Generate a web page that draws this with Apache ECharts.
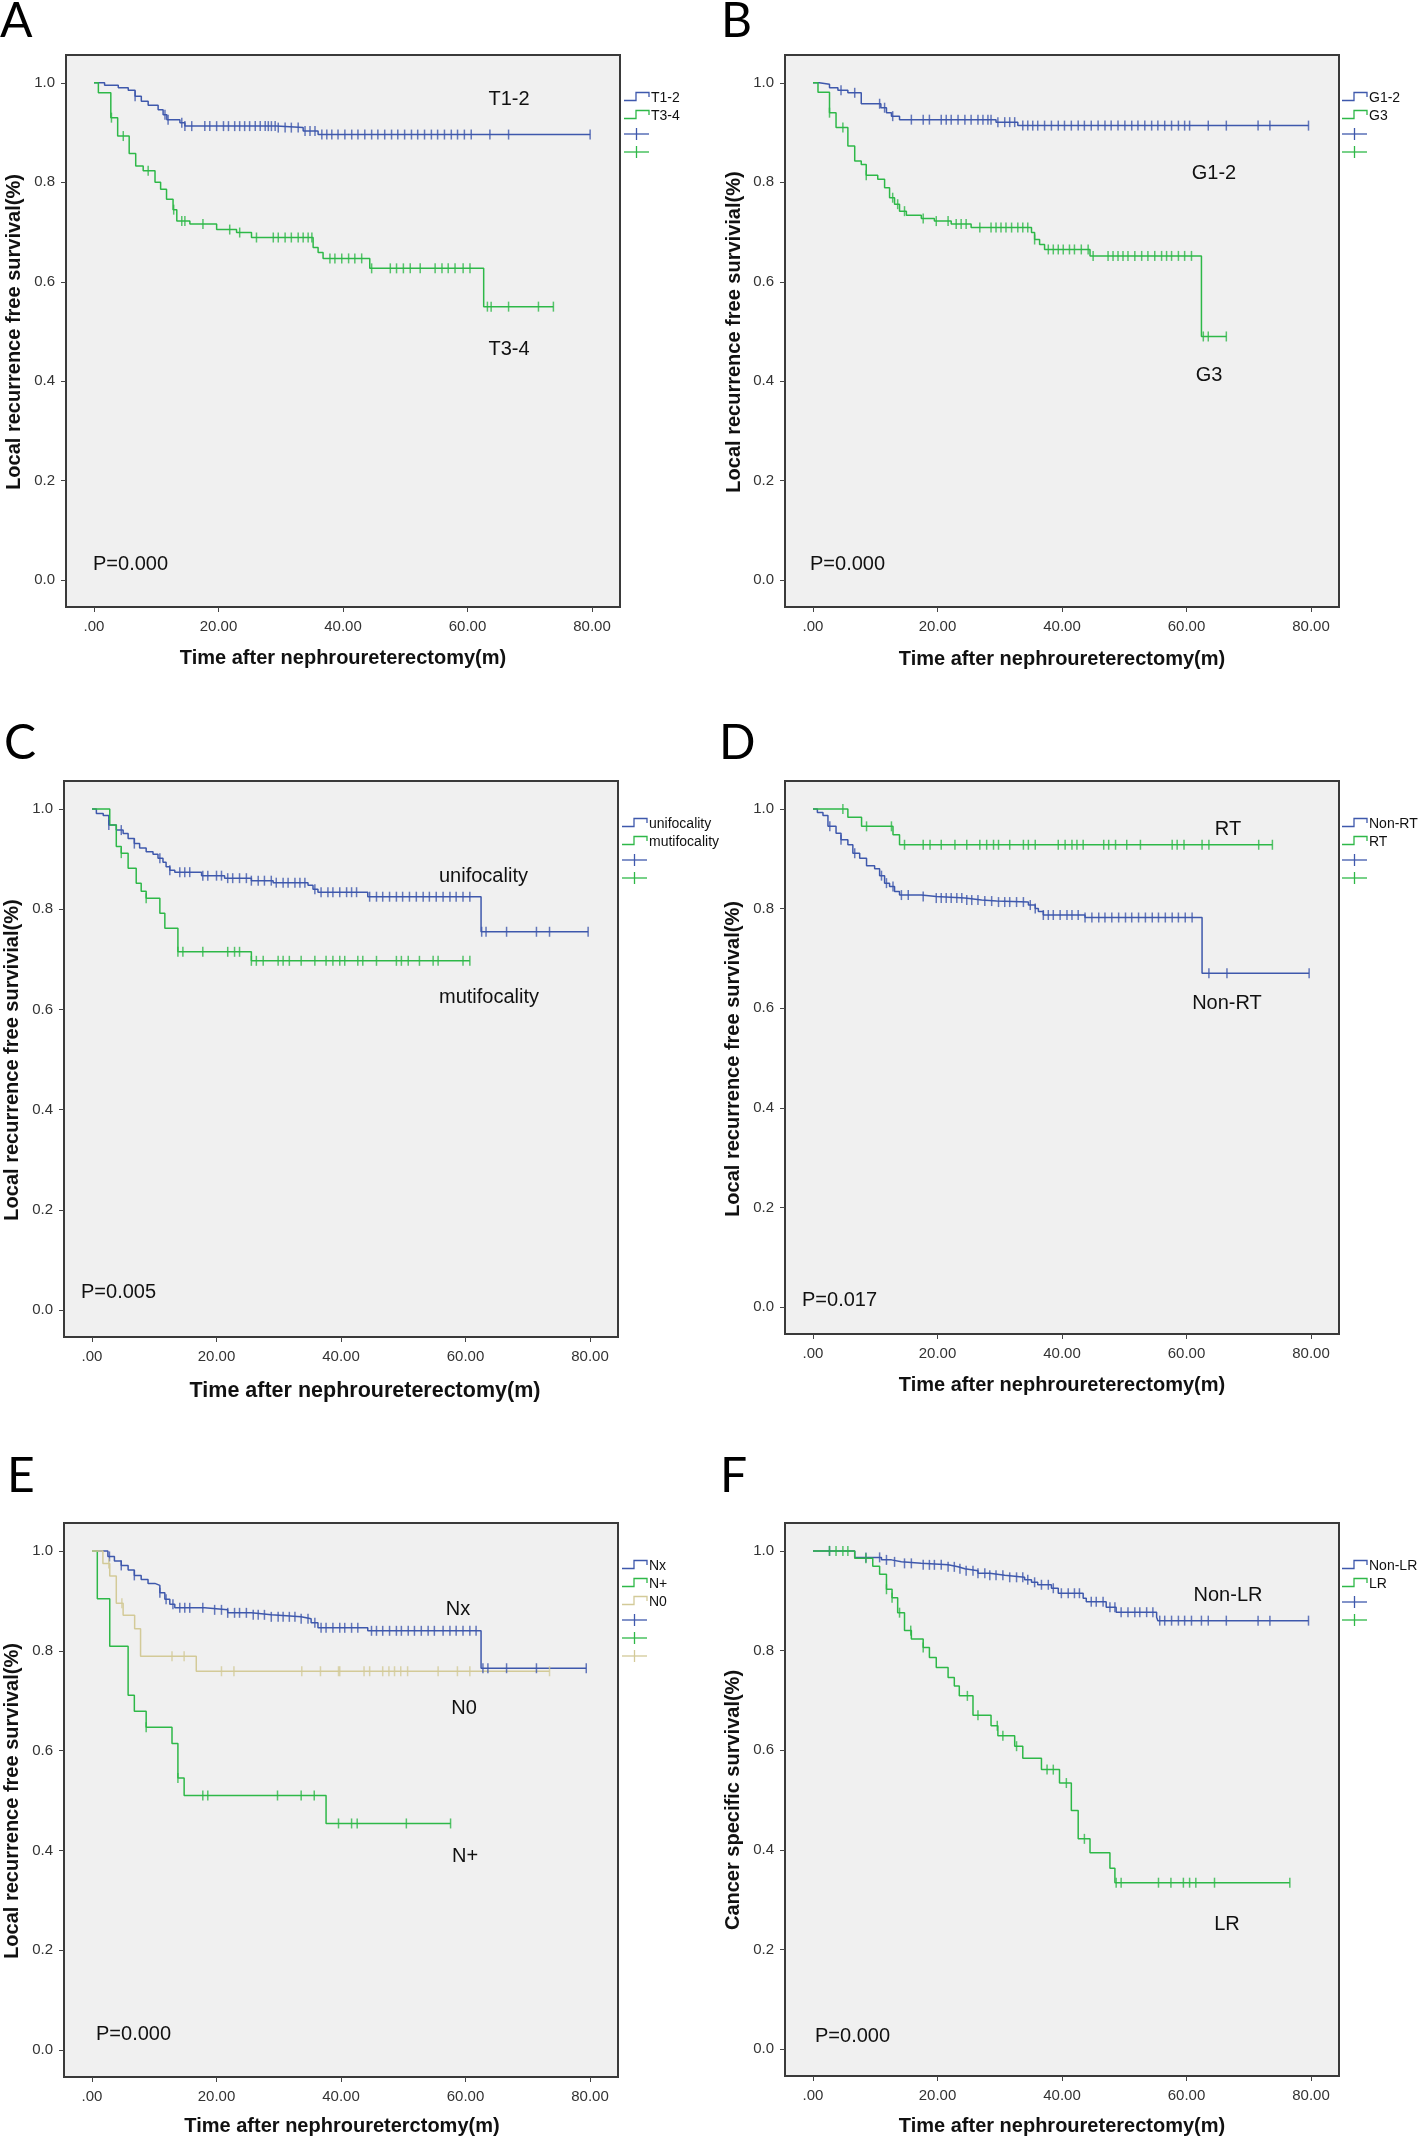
<!DOCTYPE html>
<html>
<head>
<meta charset="utf-8">
<script src="https://cdn.jsdelivr.net/npm/echarts@6/dist/echarts.min.js"></script>
<style>
  html, body { margin: 0; padding: 0; background: #fff; }
  #chart { width: 1418px; height: 2137px; }
</style>
</head>
<body>
<div id="chart"></div>
<script>
// tick values shared by all six panels
const xTicks = [0, 20, 40, 60, 80];
const yTicks = [0, 0.2, 0.4, 0.6, 0.8, 1.0];

// A - T stage
const timeT12 = [0, 1.7, 3.9, 5.5, 6.6, 7.6, 8.7, 10.3, 11.1, 11.7, 13.8, 14.6, 29.3, 33.6, 36.0];
const survT12 = [1, 0.995, 0.99, 0.985, 0.973, 0.963, 0.955, 0.946, 0.936, 0.926, 0.92, 0.913, 0.91, 0.903, 0.896];
const censT12 = [6.6, 11.4, 11.9, 14.1, 14.6, 15.7, 17.8, 18.6, 19.7, 20.8, 21.6, 22.6, 23.4, 24.2, 25.0, 25.9, 26.7, 27.5, 28.0, 28.5, 29.1, 29.6, 30.7, 31.7, 32.8, 33.9, 34.7, 35.5, 36.6, 37.4, 38.2, 39.2, 40.3, 41.4, 42.4, 43.5, 44.6, 45.6, 46.7, 47.8, 48.8, 49.9, 51.0, 52.0, 53.1, 54.2, 55.2, 56.3, 57.4, 58.4, 59.5, 60.6, 63.6, 66.6, 79.7];
const timeT34 = [0, 0.7, 2.7, 3.8, 5.65, 6.7, 7.9, 9.8, 10.7, 11.65, 12.7, 13.3, 15.4, 19.7, 22.9, 25.3, 35.2, 36.0, 36.8, 44.3, 62.6];
const survT34 = [1, 0.98, 0.93, 0.893, 0.858, 0.833, 0.823, 0.80, 0.786, 0.766, 0.745, 0.722, 0.716, 0.705, 0.699, 0.689, 0.669, 0.659, 0.647, 0.627, 0.55];
const censT34 = [2.8, 4.7, 8.7, 12.8, 14.1, 14.6, 17.5, 21.8, 23.4, 26.1, 28.8, 29.6, 30.7, 31.7, 32.8, 33.6, 34.4, 35.0, 37.9, 38.7, 39.8, 40.9, 41.9, 43.0, 44.6, 47.6, 48.6, 49.7, 50.8, 52.4, 54.8, 55.9, 56.9, 58.0, 59.3, 60.4, 63.2, 63.8, 66.6, 71.4, 73.8];

// B - grade
const timeG12 = [0, 1.0, 2.65, 4.0, 5.6, 7.75, 10.9, 11.8, 12.6, 13.9, 29.4, 32.9];
const survG12 = [1, 0.997, 0.99, 0.985, 0.98, 0.958, 0.95, 0.94, 0.933, 0.926, 0.921, 0.914];
const censG12 = [4.5, 6.7, 10.7, 11.5, 12.8, 15.8, 17.7, 18.7, 20.6, 21.4, 22.2, 23.3, 24.4, 25.4, 26.5, 27.3, 28.1, 28.6, 29.7, 30.8, 31.6, 32.4, 33.7, 34.5, 35.3, 36.1, 37.2, 38.3, 39.4, 40.4, 41.5, 42.6, 43.6, 44.7, 45.8, 46.9, 47.9, 49.0, 50.1, 51.2, 52.2, 53.3, 54.4, 55.4, 56.5, 57.6, 58.7, 59.7, 60.5, 63.5, 66.4, 71.5, 73.4, 79.6];
const timeG3 = [0, 0.8, 2.65, 3.7, 5.6, 6.7, 7.75, 8.55, 10.4, 11.5, 12.3, 13.1, 13.9, 15.0, 17.4, 19.5, 22.2, 25.4, 35.1, 35.6, 36.4, 37.2, 44.5, 62.4];
const survG3 = [1, 0.981, 0.94, 0.91, 0.873, 0.843, 0.836, 0.814, 0.806, 0.789, 0.769, 0.756, 0.742, 0.734, 0.727, 0.722, 0.716, 0.709, 0.699, 0.685, 0.675, 0.665, 0.652, 0.49];
const censG3 = [2.65, 4.8, 8.55, 12.8, 13.6, 14.7, 17.7, 19.8, 21.7, 23.0, 23.8, 24.6, 26.8, 28.6, 29.4, 30.2, 31.0, 31.9, 32.9, 33.7, 34.5, 35.6, 37.8, 38.6, 39.4, 40.2, 41.2, 42.0, 43.1, 44.2, 45.0, 47.4, 48.2, 49.0, 49.8, 50.6, 51.7, 52.8, 53.8, 54.9, 56.0, 56.8, 57.6, 58.7, 59.7, 60.8, 62.7, 63.5, 66.4];

// C - focality
const timeUni = [0, 0.7, 1.8, 2.7, 3.9, 5.0, 5.8, 6.8, 7.65, 8.7, 9.8, 10.6, 11.4, 11.9, 12.5, 13.3, 17.6, 21.3, 25.6, 29.1, 34.7, 35.5, 36.3, 44.3, 62.5];
const survUni = [1, 0.991, 0.987, 0.968, 0.958, 0.951, 0.941, 0.931, 0.922, 0.915, 0.91, 0.902, 0.894, 0.885, 0.878, 0.874, 0.867, 0.862, 0.857, 0.853, 0.848, 0.84, 0.834, 0.825, 0.755];
const censUni = [2.7, 4.7, 6.8, 10.9, 12.5, 14.1, 14.9, 15.7, 17.8, 18.6, 20.0, 20.8, 21.8, 22.6, 23.7, 24.8, 25.6, 26.7, 27.7, 28.8, 29.6, 30.7, 31.5, 32.6, 33.4, 34.2, 35.8, 36.8, 37.9, 38.7, 39.8, 40.9, 41.7, 42.5, 44.6, 45.7, 46.7, 47.8, 48.9, 49.9, 51.0, 52.1, 53.2, 54.2, 55.3, 56.4, 57.5, 58.5, 59.6, 60.7, 62.6, 63.3, 66.6, 71.4, 73.5, 79.7];
const timeMulti = [0, 2.85, 3.9, 4.7, 5.8, 7.1, 7.9, 8.7, 10.9, 11.7, 13.8, 25.6];
const survMulti = [1, 0.968, 0.925, 0.912, 0.882, 0.852, 0.836, 0.822, 0.792, 0.762, 0.715, 0.697];
const censMulti = [4.7, 8.7, 13.8, 14.6, 17.8, 21.8, 22.9, 23.7, 25.6, 26.4, 27.5, 29.9, 30.7, 31.7, 33.6, 35.8, 37.6, 38.7, 39.8, 40.6, 42.7, 43.5, 45.7, 48.9, 49.7, 50.8, 52.6, 54.8, 55.6, 59.6, 60.7];

// D - radiotherapy
const timeNonRT = [0, 0.7, 1.6, 2.4, 3.7, 4.5, 5.6, 6.4, 7.5, 8.6, 9.9, 10.7, 11.5, 12.3, 13.1, 13.9, 17.4, 19.8, 24.4, 27.1, 29.5, 34.6, 35.7, 36.2, 37.0, 43.7, 62.5];
const survNonRT = [1, 0.993, 0.987, 0.965, 0.951, 0.938, 0.928, 0.911, 0.901, 0.886, 0.88, 0.866, 0.851, 0.844, 0.834, 0.827, 0.824, 0.821, 0.817, 0.815, 0.813, 0.807, 0.80, 0.794, 0.787, 0.782, 0.67];
const censNonRT = [2.7, 4.5, 6.7, 11.0, 11.8, 12.85, 14.2, 15.3, 17.7, 19.8, 20.6, 21.4, 22.2, 23.1, 23.9, 24.7, 25.5, 26.5, 27.6, 28.7, 29.8, 30.8, 31.6, 32.7, 33.8, 34.9, 35.7, 37.0, 37.8, 38.6, 39.7, 40.8, 41.6, 42.6, 43.7, 44.8, 45.9, 46.9, 48.0, 49.1, 50.2, 51.2, 52.3, 53.4, 54.5, 55.5, 56.6, 57.7, 58.7, 59.8, 60.9, 63.6, 66.5, 79.7];
const timeRT = [0, 5.6, 7.8, 12.85, 13.9];
const survRT = [1, 0.983, 0.965, 0.948, 0.928];
const censRT = [4.8, 8.6, 12.6, 14.7, 17.7, 18.8, 20.6, 22.8, 24.7, 26.8, 27.9, 29.0, 29.8, 31.6, 33.8, 34.6, 35.7, 39.4, 40.5, 41.6, 42.4, 43.4, 46.7, 47.5, 48.6, 50.4, 52.6, 57.7, 58.5, 59.6, 62.5, 63.6, 71.6, 73.8];

// E - nodal status
const timeNx = [0, 2.55, 3.6, 4.7, 5.8, 6.8, 7.9, 9.0, 10.1, 10.9, 11.7, 12.5, 13.3, 18.1, 21.8, 25.6, 28.8, 33.6, 35.2, 36.3, 44.3, 62.5];
const survNx = [1, 0.989, 0.98, 0.971, 0.962, 0.951, 0.943, 0.935, 0.931, 0.916, 0.903, 0.893, 0.886, 0.882, 0.876, 0.872, 0.868, 0.864, 0.856, 0.846, 0.84, 0.765];
const censNx = [2.8, 4.7, 6.8, 10.9, 11.9, 13.0, 14.1, 14.9, 15.7, 17.8, 19.7, 20.8, 21.8, 22.9, 23.7, 24.8, 25.9, 26.7, 27.7, 28.8, 29.9, 30.7, 31.7, 32.6, 33.6, 34.7, 35.8, 36.8, 37.6, 38.7, 39.8, 40.6, 41.7, 42.7, 44.9, 45.7, 46.7, 47.8, 48.9, 49.7, 50.8, 51.8, 52.9, 54.0, 55.0, 56.4, 57.5, 58.5, 59.6, 60.7, 61.7, 62.8, 63.6, 66.6, 71.4, 79.4];
const timeNpos = [0, 0.85, 2.85, 5.8, 6.8, 8.7, 12.85, 13.8, 14.8, 37.6];
const survNpos = [1, 0.904, 0.809, 0.711, 0.679, 0.647, 0.614, 0.545, 0.51, 0.454];
const censNpos = [8.7, 13.8, 17.8, 18.6, 29.8, 33.6, 35.7, 39.6, 41.7, 42.6, 50.5, 57.6];
const timeN0 = [0, 1.75, 2.85, 3.9, 5.0, 6.85, 7.8, 16.75];
const survN0 = [1, 0.975, 0.95, 0.895, 0.871, 0.844, 0.789, 0.759];
const censN0 = [2.7, 4.8, 12.85, 14.8, 20.8, 22.8, 33.7, 36.7, 39.6, 39.8, 43.7, 44.6, 46.7, 47.7, 48.6, 49.6, 50.7, 55.6, 58.7, 60.7, 73.5];

// F - local recurrence vs cancer specific survival
const timeNonLR = [0, 6.7, 11.0, 12.6, 14.2, 17.4, 21.7, 23.3, 24.4, 26.5, 28.4, 30.8, 34.0, 35.1, 36.1, 38.3, 39.4, 43.4, 43.9, 47.1, 48.7, 55.2, 55.4];
const survNonLR = [1, 0.987, 0.982, 0.978, 0.975, 0.972, 0.968, 0.964, 0.96, 0.955, 0.951, 0.947, 0.942, 0.937, 0.932, 0.925, 0.915, 0.905, 0.898, 0.887, 0.877, 0.867, 0.86];
const censNonLR = [2.65, 8.5, 10.7, 11.8, 13.1, 14.7, 15.8, 17.7, 18.7, 19.5, 20.6, 21.7, 22.7, 23.6, 24.6, 25.7, 26.5, 27.6, 28.4, 29.4, 30.5, 31.6, 32.7, 33.7, 34.5, 35.6, 36.7, 37.8, 38.6, 39.9, 41.0, 42.0, 42.8, 44.7, 45.5, 46.6, 47.7, 48.5, 49.5, 50.6, 51.7, 52.5, 53.6, 54.6, 55.7, 56.5, 57.6, 58.7, 59.7, 60.8, 62.4, 63.5, 66.4, 71.5, 73.4, 79.6];
const timeLR = [0, 6.7, 9.6, 10.7, 11.8, 12.7, 13.6, 14.7, 15.8, 17.7, 18.7, 19.8, 21.7, 22.7, 23.5, 25.7, 28.6, 29.7, 32.4, 33.7, 36.7, 39.6, 41.5, 42.6, 44.5, 47.7, 48.5];
const survLR = [1, 0.985, 0.969, 0.953, 0.923, 0.906, 0.876, 0.84, 0.823, 0.806, 0.786, 0.766, 0.746, 0.729, 0.709, 0.67, 0.649, 0.629, 0.608, 0.584, 0.561, 0.534, 0.479, 0.422, 0.394, 0.363, 0.334];
const censLR = [2.65, 3.7, 4.8, 5.6, 8.5, 11.8, 12.7, 13.9, 15.7, 17.7, 24.8, 26.5, 29.6, 30.5, 32.7, 37.6, 38.6, 40.7, 43.6, 48.7, 49.5, 55.5, 57.5, 59.5, 60.5, 61.5, 64.5, 76.6];

const BLUE = '#3e58ac', GREEN = '#2eb848', TAN = '#d3ca98';
const FONT = '"Liberation Sans", Arial, sans-serif';

const panels = [
  { letter: 'A', box: [66, 55, 554, 552], letterPos: [0, 22], xTitle: 'Time after nephroureterectomy(m)', xTitlePos: [343, 658], xTitleSize: 20,
    yTitle: 'Local recurrence free survival(%)', yTitlePos: [14, 332], legendPos: [624, 98], p: 'P=0.000', pPos: [93, 564],
    curves: [['T1-2', timeT12, survT12, censT12, BLUE], ['T3-4', timeT34, survT34, censT34, GREEN]],
    notes: [['T1-2', 509, 99, 'center'], ['T3-4', 509, 349, 'center']] },
  { letter: 'B', box: [785, 55, 554, 552], letterPos: [721, 22], xTitle: 'Time after nephroureterectomy(m)', xTitlePos: [1062, 659], xTitleSize: 20,
    yTitle: 'Local recurrence free survivial(%)', yTitlePos: [734, 332], legendPos: [1342, 98], p: 'P=0.000', pPos: [810, 564],
    curves: [['G1-2', timeG12, survG12, censG12, BLUE], ['G3', timeG3, survG3, censG3, GREEN]],
    notes: [['G1-2', 1214, 173, 'center'], ['G3', 1209, 375, 'center']] },
  { letter: 'C', box: [64, 781, 554, 556], letterPos: [4, 744], xTitle: 'Time after nephroureterectomy(m)', xTitlePos: [365, 1391], xTitleSize: 21.5,
    yTitle: 'Local recurrence free survivial(%)', yTitlePos: [12, 1060], legendPos: [622, 824], p: 'P=0.005', pPos: [81, 1292],
    curves: [['unifocality', timeUni, survUni, censUni, BLUE], ['mutifocality', timeMulti, survMulti, censMulti, GREEN]],
    notes: [['unifocality', 439, 876, 'left'], ['mutifocality', 439, 997, 'left']] },
  { letter: 'D', box: [785, 781, 554, 553], letterPos: [719, 744], xTitle: 'Time after nephroureterectomy(m)', xTitlePos: [1062, 1385], xTitleSize: 20,
    yTitle: 'Local recurrence free survival(%)', yTitlePos: [733, 1059], legendPos: [1342, 824], p: 'P=0.017', pPos: [802, 1300],
    curves: [['Non-RT', timeNonRT, survNonRT, censNonRT, BLUE], ['RT', timeRT, survRT, censRT, GREEN]],
    notes: [['RT', 1228, 829, 'center'], ['Non-RT', 1227, 1003, 'center']] },
  { letter: 'E', box: [64, 1523, 554, 554], letterPos: [7, 1477], xTitle: 'Time after nephroureterctomy(m)', xTitlePos: [342, 2126], xTitleSize: 20,
    yTitle: 'Local recurrence free survival(%)', yTitlePos: [12, 1801], legendPos: [622, 1566], p: 'P=0.000', pPos: [96, 2034],
    curves: [['Nx', timeNx, survNx, censNx, BLUE], ['N+', timeNpos, survNpos, censNpos, GREEN], ['N0', timeN0, survN0, censN0, TAN]],
    notes: [['Nx', 458, 1609, 'center'], ['N0', 464, 1708, 'center'], ['N+', 465, 1856, 'center']] },
  { letter: 'F', box: [785, 1523, 554, 553], letterPos: [720, 1477], xTitle: 'Time after nephroureterectomy(m)', xTitlePos: [1062, 2126], xTitleSize: 20,
    yTitle: 'Cancer specific survival(%)', yTitlePos: [733, 1800], legendPos: [1342, 1566], p: 'P=0.000', pPos: [815, 2036],
    curves: [['Non-LR', timeNonLR, survNonLR, censNonLR, BLUE], ['LR', timeLR, survLR, censLR, GREEN]],
    notes: [['Non-LR', 1228, 1595, 'center'], ['LR', 1227, 1924, 'center']] }
];

// Kaplan-Meier value at time t (right-continuous step)
function survAt(times, surv, t) {
  let s = surv[0];
  for (let i = 0; i < times.length; i++) {
    if (times[i] <= t) s = surv[i];
  }
  return s;
}

function stepData(times, surv, cens) {
  const pts = times.map((t, i) => [t, surv[i]]);
  const end = Math.max(times[times.length - 1], ...cens);
  pts.push([end, surv[surv.length - 1]]);
  return pts;
}

const grid = [], xAxis = [], yAxis = [], series = [], graphic = [];

panels.forEach((p, i) => {
  grid.push({
    left: p.box[0], top: p.box[1], width: p.box[2], height: p.box[3],
    show: true, backgroundColor: '#f0f0f0', borderColor: '#3a3a3a', borderWidth: 2
  });
  xAxis.push({
    gridIndex: i, type: 'value', min: -4.5, max: 84.5, position: 'bottom',
    splitLine: { show: false }, axisLine: { show: false, onZero: false },
    axisTick: { show: true, length: 5, customValues: xTicks, lineStyle: { color: '#444', width: 1 } },
    axisLabel: { customValues: xTicks, margin: 12, fontSize: 15, color: '#333', fontFamily: FONT,
      formatter: v => (v === 0 ? '.00' : v.toFixed(2)) }
  });
  yAxis.push({
    gridIndex: i, type: 'value', min: -0.054, max: 1.056, position: 'left',
    splitLine: { show: false }, axisLine: { show: false, onZero: false },
    axisTick: { show: true, length: 5, customValues: yTicks, lineStyle: { color: '#444', width: 1 } },
    axisLabel: { customValues: yTicks, margin: 11, fontSize: 15, color: '#333', fontFamily: FONT,
      formatter: v => v.toFixed(1) }
  });

  p.curves.forEach(c => {
    const [name, times, surv, cens, color] = c;
    series.push({
      name: name, type: 'line', xAxisIndex: i, yAxisIndex: i, step: 'end',
      data: stepData(times, surv, cens), showSymbol: false, silent: true,
      lineStyle: { color: color, width: 1.5 }, z: 3
    });
    series.push({
      type: 'scatter', xAxisIndex: i, yAxisIndex: i, silent: true,
      data: cens.map(t => [t, survAt(times, surv, t)]),
      symbol: 'rect', symbolSize: [1.5, 10], itemStyle: { color: color }, z: 4
    });
  });

  // panel letter
  graphic.push({ type: 'text', x: p.letterPos[0], y: p.letterPos[1],
    style: { text: p.letter, fill: '#000', font: '48px Lato, "Open Sans", sans-serif', align: 'left', verticalAlign: 'middle' } });
  // axis titles
  graphic.push({ type: 'text', x: p.xTitlePos[0], y: p.xTitlePos[1],
    style: { text: p.xTitle, fill: '#111', font: 'bold ' + p.xTitleSize + 'px ' + FONT, align: 'center', verticalAlign: 'middle' } });
  graphic.push({ type: 'text', x: p.yTitlePos[0], y: p.yTitlePos[1], rotation: Math.PI / 2,
    style: { text: p.yTitle, fill: '#111', font: 'bold 20px ' + FONT, align: 'center', verticalAlign: 'middle' } });
  // p value and curve labels
  graphic.push({ type: 'text', x: p.pPos[0], y: p.pPos[1],
    style: { text: p.p, fill: '#111', font: '20px ' + FONT, align: 'left', verticalAlign: 'middle' } });
  p.notes.forEach(n => {
    graphic.push({ type: 'text', x: n[1], y: n[2],
      style: { text: n[0], fill: '#111', font: '20px ' + FONT, align: n[3], verticalAlign: 'middle' } });
  });

  // SPSS style legend: step glyph rows, then censor glyph rows
  const lx = p.legendPos[0], rowH = 18;
  let ly = p.legendPos[1];
  p.curves.forEach(c => {
    graphic.push({ type: 'polyline', silent: true,
      shape: { points: [[lx, ly + 2.5], [lx + 12, ly + 2.5], [lx + 12, ly - 5.5], [lx + 25, ly - 5.5], [lx + 25, ly - 1]] },
      style: { stroke: c[4], lineWidth: 1.3, fill: null } });
    graphic.push({ type: 'text', x: lx + 27, y: ly,
      style: { text: c[0], fill: '#111', font: '14px ' + FONT, align: 'left', verticalAlign: 'middle' } });
    ly += rowH;
  });
  p.curves.forEach(c => {
    graphic.push({ type: 'line', silent: true, shape: { x1: lx, y1: ly, x2: lx + 25, y2: ly },
      style: { stroke: c[4], lineWidth: 1.3 } });
    graphic.push({ type: 'line', silent: true, shape: { x1: lx + 12.5, y1: ly - 6, x2: lx + 12.5, y2: ly + 6 },
      style: { stroke: c[4], lineWidth: 1.3 } });
    ly += rowH;
  });
});

const chart = echarts.init(document.getElementById('chart'), null, { renderer: 'canvas' });
chart.setOption({
  animation: false,
  backgroundColor: '#ffffff',
  grid: grid,
  xAxis: xAxis,
  yAxis: yAxis,
  series: series,
  graphic: graphic
});
</script>
</body>
</html>
